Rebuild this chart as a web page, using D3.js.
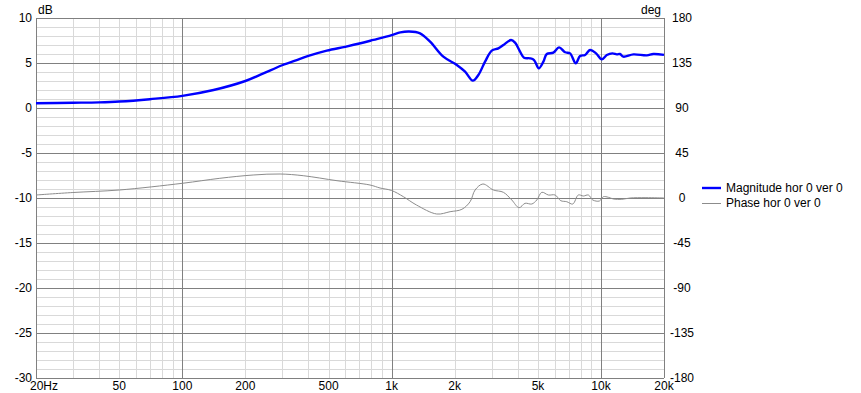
<!DOCTYPE html>
<html><head><meta charset="utf-8">
<script src="https://cdn.jsdelivr.net/npm/d3@7"></script>
<style>body{margin:0;background:#fff}svg{display:block;font-family:"Liberation Sans",Arial,sans-serif;font-size:12px}</style>
</head><body><svg id="c" width="861" height="393"></svg>
<script>
const magFreq = [20,30,40,50,70,100,141,200,244,300,352,400,490,600,710,818,1000,1100,1211,1367,1526,1766,2047,2243,2442,2596,2794,3008,3234,3418,3720,3887,4106,4291,4584,4790,5045,5306,5509,5922,6306,6738,7118,7578,7944,8396,8872,9475,10088,10660,11340,11900,12330,12794,14290,16550,17800,20000];
const magDb   = [0.52,0.58,0.63,0.72,0.98,1.35,2.0,3.0,3.85,4.75,5.33,5.78,6.37,6.8,7.19,7.56,8.1,8.4,8.5,8.3,7.37,5.7,4.78,4.03,3.04,3.67,5.15,6.37,6.63,7.0,7.56,7.26,6.26,5.59,5.52,5.33,4.41,5.15,6.0,6.15,6.74,6.19,6.07,4.96,5.78,5.89,6.44,6.07,5.41,5.89,6.07,5.96,6.0,5.7,5.96,5.85,6.0,5.9];
const phFreq = [20,30,50,100,151,218,293,378,548,788,880,1000,1138,1314,1642,1902,2166,2370,2504,2728,3062,3418,3748,4062,4338,4672,4936,5216,5608,6036,6426,6860,7334,7790,8240,8706,9138,9828,10270,10850,11470,12570,13770,16400,20000];
const phDeg  = [3,5.5,8,14.7,19.7,23,24,22.3,17.3,13,10,7.5,1.3,-7,-16,-13.7,-11.3,-3.7,8,14,8,5.7,-2,-9.7,-5.3,-6,-2,5.7,3,3,-2.7,-3.7,-6,3,2,3,-2,-3,1.3,0.7,-1,-1.3,0,0.3,0];
const xTicks = [20,50,100,200,500,1000,2000,5000,10000,20000];
const xTickLabels = ["20Hz","50","100","200","500","1k","2k","5k","10k","20k"];
const dbTicks = [10,5,0,-5,-10,-15,-20,-25,-30];
const degTicks = [180,135,90,45,0,-45,-90,-135,-180];
const seriesNames = ["Magnitude hor 0 ver 0","Phase hor 0 ver 0"];

const L=36,R=664,T=18,B=378;
const svg=d3.select("#c");
const x=d3.scaleLog().domain([20,20000]).range([L,R]);
const y=d3.scaleLinear().domain([-30,10]).range([B,T]);
const y2=d3.scaleLinear().domain([-180,180]).range([B,T]);

const g=svg.append("g").attr("shape-rendering","crispEdges");
// minor vertical
const minorX=[];
for(let d=10;d<=10000;d*=10)for(let k=2;k<=9;k++){const f=k*d;if(f>20&&f<20000&&![100,1000,10000].includes(f))minorX.push(f);}
g.selectAll(".mx").data(minorX).join("line").attr("x1",d=>Math.round(x(d))+0.5).attr("x2",d=>Math.round(x(d))+0.5).attr("y1",T).attr("y2",B).attr("stroke","#d9d9d9");
// minor horizontal
const minorY=d3.range(-29,10).filter(v=>v%5!==0);
g.selectAll(".my").data(minorY).join("line").attr("y1",d=>Math.round(y(d))+0.5).attr("y2",d=>Math.round(y(d))+0.5).attr("x1",L).attr("x2",R).attr("stroke","#d9d9d9");
// major
g.selectAll(".My").data(dbTicks).join("line").attr("y1",d=>Math.round(y(d))+0.5).attr("y2",d=>Math.round(y(d))+0.5).attr("x1",L).attr("x2",R).attr("stroke","#808080");
g.selectAll(".Mx").data([20,100,1000,10000,20000]).join("line").attr("x1",d=>Math.round(x(d))+0.5).attr("x2",d=>Math.round(x(d))+0.5).attr("y1",T).attr("y2",B).attr("stroke","#808080");

// curves
const ph=phFreq.map((f,i)=>[f,phDeg[i]]);
const mg=magFreq.map((f,i)=>[f,magDb[i]]);
svg.append("path").datum(ph).attr("fill","none").attr("stroke","#8c8c8c").attr("stroke-width",1)
 .attr("d",d3.line().x(d=>x(d[0])).y(d=>y2(d[1])).curve(d3.curveCatmullRom.alpha(0.5)));
svg.append("path").datum(mg).attr("fill","none").attr("stroke","#0000ff").attr("stroke-width",2.4)
 .attr("d",d3.line().x(d=>x(d[0])).y(d=>y(d[1])).curve(d3.curveCatmullRom.alpha(0.5)));

// labels
svg.selectAll(".yl").data(dbTicks).join("text").attr("x",32).attr("y",d=>y(d)).attr("dy","0.35em").attr("text-anchor","end").attr("fill","#000").text(d=>d);
svg.selectAll(".y2l").data(degTicks).join("text").attr("x",682).attr("y",d=>y2(d)).attr("dy","0.35em").attr("text-anchor","middle").attr("fill","#000").text(d=>d);
svg.selectAll(".xl").data(xTicks).join("text").attr("x",(d,i)=>i===0?30:x(d)).attr("y",386).attr("dy","0.35em").attr("text-anchor",(d,i)=>i===0?"start":"middle").attr("fill","#000").text((d,i)=>xTickLabels[i]);
svg.append("text").attr("x",38).attr("y",10).attr("dy","0.35em").text("dB");
svg.append("text").attr("x",661).attr("y",10).attr("dy","0.35em").attr("text-anchor","end").text("deg");

// legend
const leg=svg.append("g");
leg.append("line").attr("x1",702).attr("x2",721).attr("y1",188).attr("y2",188).attr("stroke","#0000ff").attr("stroke-width",2.4);
leg.append("line").attr("x1",702).attr("x2",721).attr("y1",203.5).attr("y2",203.5).attr("stroke","#8c8c8c").attr("stroke-width",1);
leg.append("text").attr("x",726).attr("y",188).attr("dy","0.35em").text(seriesNames[0]);
leg.append("text").attr("x",726).attr("y",203).attr("dy","0.35em").text(seriesNames[1]);
</script></body></html>
